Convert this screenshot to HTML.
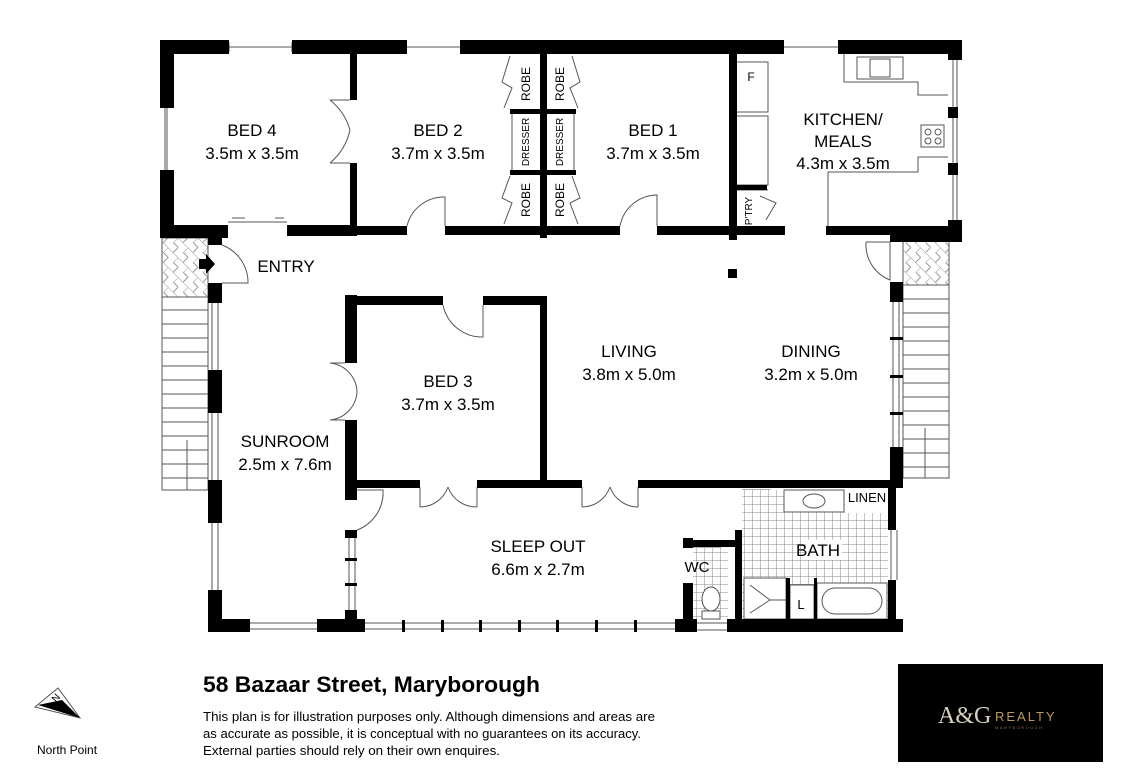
<!DOCTYPE html>
<html><head><meta charset="utf-8"><style>
html,body{margin:0;padding:0;background:#fff}
svg{display:block}
text{font-family:"Liberation Sans",sans-serif;fill:#000}
.r{font-size:17px;text-anchor:middle}
.s{font-size:12px;text-anchor:middle}
</style></head><body>
<svg width="1124" height="776" viewBox="0 0 1124 776" xmlns="http://www.w3.org/2000/svg">
<defs>
<pattern id="tile" width="8" height="8" patternUnits="userSpaceOnUse"><rect width="8" height="8" fill="#fff"/><path d="M0 0H8M0 0V8" stroke="#888" stroke-width="1"/></pattern>
<pattern id="hatch" width="14" height="14" patternUnits="userSpaceOnUse" patternTransform="rotate(45)"><rect width="14" height="14" fill="#fff"/><path d="M0 0H14M0 7H7M7 7V14M0 0V7" stroke="#999" stroke-width="1"/></pattern>
</defs>
<g fill="none" stroke="#555" stroke-width="1">
<!-- stairs left -->
<rect x="162" y="238" width="46" height="59" fill="url(#hatch)"/>
<rect x="162" y="297" width="46" height="193"/>
<path d="M162 310H208M162 324H208M162 338H208M162 352H208M162 366H208M162 380H208M162 394H208M162 408H208M162 422H208M162 436H208M162 450H208M162 464H208M162 478H208"/>
<path d="M187 490V440"/>
<!-- stairs right -->
<rect x="903" y="241" width="46" height="44" fill="url(#hatch)"/>
<rect x="903" y="285" width="46" height="193"/>
<path d="M903 299H949M903 313H949M903 327H949M903 341H949M903 355H949M903 369H949M903 383H949M903 397H949M903 411H949M903 425H949M903 439H949M903 453H949M903 467H949"/>
<path d="M925 478V428"/>
<!-- windows -->
<path d="M229 42V52M292 42V52M229 47H292M407 47H460M784 47H838M165 108V170M167 108V170"/>
<path d="M212 303V370M218 303V370M212 413V480M218 413V480M212 523V590M218 523V590"/>
<path d="M250 623H317M250 629H317M365 623H675M365 629H675M349 530V620M355 530V620"/>
<path d="M893 302V447M899 302V447M891 530V580M897 530V580M953 60V107M957 60V107M953 118V163M957 118V163M953 175V220M957 175V220M697 623H727M697 630H727"/>
<!-- kitchen benches -->
<path d="M737 62H768V112H737M737 116H768V185H737M737 190H768"/>
<path d="M844 54V82H918V95H948M948 157H918V172H828V226"/>
<rect x="857" y="57" width="46" height="22"/><rect x="870" y="59" width="20" height="18"/>
<rect x="921" y="125" width="23" height="22"/>
<circle cx="928" cy="132" r="3"/><circle cx="938" cy="132" r="3"/><circle cx="928" cy="141" r="3"/><circle cx="938" cy="141" r="3"/>
<!-- doors -->
<path d="M330 100A60 60 0 0 1 350 130M330 163A60 60 0 0 0 350 130M330 100H350M330 163H350"/>
<path d="M407 226A38 38 0 0 1 445 197V226"/>
<path d="M620 226A38 38 0 0 1 657 195V226"/>
<path d="M222 245A40 40 0 0 1 248 283H222"/>
<path d="M866 242A38 38 0 0 0 890 280V242H866"/>
<path d="M443 305A40 40 0 0 0 483 337V305"/>
<path d="M330 363A30 30 0 0 1 357 392M330 420A30 30 0 0 0 357 392M330 363H345M330 420H345"/>
<path d="M420 507A30 30 0 0 0 448 487M477 507A30 30 0 0 1 448 487M420 487V507M477 487V507"/>
<path d="M582 507A30 30 0 0 0 610 487M638 507A30 30 0 0 1 610 487M582 487V507M638 507V487"/>
<path d="M357 530A40 40 0 0 0 383 490H357"/>
<path d="M742 530A40 40 0 0 0 770 490H742"/>
<path d="M693 583A35 35 0 0 0 721 548H693"/>
<path d="M760 196L776 203L766 220"/>
<path d="M228 222H287M232 218H245M275 218H284M238 218L232 218M278 218L284 218"/>
<path d="M510 56L502 82L512 88L504 108M572 56L580 82L570 88L578 108M510 176L502 198L512 203L504 224M572 176L580 198L570 203L578 224M512 114V170M574 114V170"/>
</g>
<!-- bath tiles -->
<rect x="742" y="490" width="146" height="129" fill="url(#tile)"/>
<rect x="693" y="548" width="35" height="71" fill="url(#tile)"/>
<g fill="#fff" stroke="#555">
<rect x="784" y="490" width="60" height="22"/><ellipse cx="814" cy="501" rx="11" ry="7"/>
<rect x="845" y="488" width="43" height="25" stroke="none"/>
<rect x="744" y="578" width="42" height="41"/><rect x="790" y="585" width="24" height="34"/>
<rect x="817" y="583" width="70" height="36"/><rect x="822" y="588" width="60" height="26" rx="13"/>
<ellipse cx="711" cy="599" rx="9" ry="12"/><rect x="702" y="611" width="18" height="8"/>
<rect x="806" y="540" width="36" height="20" stroke="none"/>
</g>
<path d="M750 585L770 600M750 613L770 600M770 600H786" stroke="#555" fill="none"/>
<!-- walls -->
<g fill="#000">
<rect x="160" y="40" width="69" height="14"/><rect x="292" y="40" width="115" height="14"/><rect x="460" y="40" width="324" height="14"/><rect x="838" y="40" width="124" height="14"/>
<rect x="160" y="40" width="14" height="68"/><rect x="160" y="170" width="14" height="68"/>
<rect x="160" y="225" width="68" height="13"/><rect x="287" y="225" width="70" height="11"/><rect x="208" y="225" width="14" height="20"/>
<rect x="350" y="54" width="7" height="46"/><rect x="350" y="163" width="7" height="73"/>
<rect x="357" y="226" width="50" height="9"/><rect x="445" y="226" width="175" height="9"/><rect x="657" y="226" width="128" height="9"/><rect x="826" y="226" width="136" height="9"/>
<rect x="540" y="54" width="7" height="184"/><rect x="510" y="109" width="66" height="5"/><rect x="510" y="170" width="66" height="5"/>
<rect x="729" y="54" width="8" height="186"/><rect x="737" y="185" width="30" height="5"/>
<rect x="890" y="226" width="72" height="16"/><rect x="948" y="40" width="14" height="20"/><rect x="948" y="107" width="10" height="11"/><rect x="948" y="163" width="10" height="12"/><rect x="948" y="220" width="14" height="22"/>
<rect x="728" y="269" width="9" height="9"/>
<rect x="208" y="283" width="14" height="20"/><rect x="208" y="370" width="14" height="43"/><rect x="208" y="480" width="14" height="43"/><rect x="208" y="590" width="14" height="42"/>
<rect x="208" y="619" width="42" height="13"/><rect x="317" y="619" width="48" height="13"/>
<rect x="345" y="295" width="12" height="68"/><rect x="345" y="420" width="12" height="80"/>
<rect x="357" y="296" width="86" height="9"/><rect x="483" y="296" width="64" height="9"/><rect x="540" y="296" width="7" height="184"/>
<rect x="357" y="480" width="63" height="8"/><rect x="477" y="480" width="105" height="8"/><rect x="638" y="480" width="257" height="8"/>
<rect x="345" y="530" width="12" height="8"/><rect x="345" y="610" width="12" height="15"/>
<rect x="890" y="282" width="13" height="20"/><rect x="890" y="447" width="13" height="41"/><rect x="888" y="488" width="8" height="42"/><rect x="888" y="580" width="8" height="52"/>
<rect x="735" y="530" width="7" height="90"/><rect x="683" y="538" width="10" height="10"/><rect x="683" y="583" width="10" height="49"/><rect x="693" y="540" width="42" height="7"/>
<rect x="675" y="619" width="22" height="13"/><rect x="727" y="619" width="176" height="13"/>
<rect x="786" y="578" width="4" height="41"/><rect x="814" y="578" width="3" height="41"/><rect x="742" y="575" width="146" height="3" fill="#000" opacity="0"/>
<rect x="402" y="620" width="3" height="12"/><rect x="441" y="620" width="3" height="12"/><rect x="479" y="620" width="3" height="12"/><rect x="518" y="620" width="3" height="12"/><rect x="556" y="620" width="3" height="12"/><rect x="595" y="620" width="3" height="12"/><rect x="634" y="620" width="3" height="12"/>
<rect x="345" y="558" width="12" height="3"/><rect x="345" y="583" width="12" height="3"/>
<rect x="890" y="337" width="13" height="3"/><rect x="890" y="375" width="13" height="3"/><rect x="890" y="412" width="13" height="3"/>
<path d="M199 259H206V254L215 264L206 274V269H199Z"/>
</g>
<path d="M35 707L80 718L58 688Z" fill="none" stroke="#555"/><path d="M38 705L80 718L62 700Z"/>
<!-- labels -->
<text class="r" x="252" y="136">BED 4</text><text class="r" x="252" y="159">3.5m x 3.5m</text>
<text class="r" x="438" y="136">BED 2</text><text class="r" x="438" y="159">3.7m x 3.5m</text>
<text class="r" x="653" y="136">BED 1</text><text class="r" x="653" y="159">3.7m x 3.5m</text>
<text class="r" x="843" y="125">KITCHEN/</text><text class="r" x="843" y="147">MEALS</text><text class="r" x="843" y="169">4.3m x 3.5m</text>
<text class="r" x="286" y="272">ENTRY</text>
<text class="r" x="629" y="357">LIVING</text><text class="r" x="629" y="380">3.8m x 5.0m</text>
<text class="r" x="811" y="357">DINING</text><text class="r" x="811" y="380">3.2m x 5.0m</text>
<text class="r" x="448" y="387">BED 3</text><text class="r" x="448" y="410">3.7m x 3.5m</text>
<text class="r" x="285" y="447">SUNROOM</text><text class="r" x="285" y="470">2.5m x 7.6m</text>
<text class="r" x="538" y="552">SLEEP OUT</text><text class="r" x="538" y="575">6.6m x 2.7m</text>
<text class="r" x="818" y="556">BATH</text>
<text class="r" x="697" y="572" style="font-size:15px">WC</text>
<text class="s" x="867" y="502" style="font-size:13px">LINEN</text>
<text class="s" x="801" y="609" style="font-size:13px">L</text>
<text class="s" x="751" y="81">F</text>
<text class="s" transform="translate(752 211) rotate(-90)" style="font-size:10px">P'TRY</text>
<text class="s" transform="translate(530 84) rotate(-90)">ROBE</text>
<text class="s" transform="translate(564 84) rotate(-90)">ROBE</text>
<text class="s" transform="translate(530 200) rotate(-90)">ROBE</text>
<text class="s" transform="translate(564 200) rotate(-90)">ROBE</text>
<text class="s" transform="translate(529 142) rotate(-90)" style="font-size:10px">DRESSER</text>
<text class="s" transform="translate(563 142) rotate(-90)" style="font-size:10px">DRESSER</text>
<text x="37" y="754" style="font-size:12px">North Point</text>
<text x="52" y="700" style="font-size:10px" transform="rotate(-50 57 697)">N</text>
<text x="203" y="692" style="font-size:22px;font-weight:bold" textLength="337" lengthAdjust="spacingAndGlyphs">58 Bazaar Street, Maryborough</text>
<text x="203" y="721" style="font-size:12.5px" textLength="452" lengthAdjust="spacingAndGlyphs">This plan is for illustration purposes only.  Although dimensions and areas are</text>
<text x="203" y="738" style="font-size:12.5px" textLength="438" lengthAdjust="spacingAndGlyphs">as accurate as possible, it is conceptual with no guarantees on its accuracy.</text>
<text x="203" y="755" style="font-size:12.5px" textLength="297" lengthAdjust="spacingAndGlyphs">External parties should rely on their own enquires.</text>
<rect x="898" y="664" width="205" height="98" fill="#000"/>
<text x="938" y="723" style="font-size:24px;font-family:'Liberation Serif',serif;fill:#d8d0c0">A&amp;G</text>
<text x="995" y="721" style="font-size:13px;fill:#b89a5e;letter-spacing:2px">REALTY</text>
<text x="995" y="729" style="font-size:4px;fill:#887050;letter-spacing:1.5px">MARYBOROUGH</text>
</svg>
</body></html>
